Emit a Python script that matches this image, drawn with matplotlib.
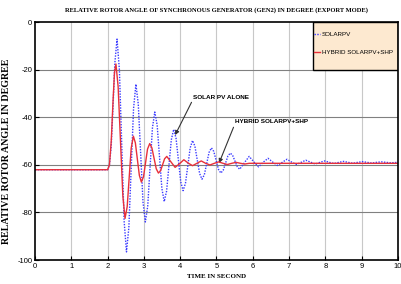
import matplotlib
matplotlib.use("Agg")
import matplotlib.pyplot as plt
from matplotlib.patches import Rectangle

# ---- data ----
t_pv = [0, 2.0, 2.05, 2.1, 2.15, 2.2, 2.26,
        2.325, 2.39, 2.455, 2.52,
        2.585, 2.65, 2.715, 2.78,
        2.845, 2.91, 2.975, 3.04,
        3.105, 3.17, 3.235, 3.30,
        3.365, 3.43, 3.495, 3.56,
        3.625, 3.69, 3.755, 3.82,
        3.885, 3.95, 4.015, 4.08,
        4.145, 4.21, 4.275, 4.34,
        4.405, 4.47, 4.535, 4.60,
        4.665, 4.73, 4.795, 4.86,
        4.925, 4.99, 5.055, 5.12,
        5.185, 5.25, 5.315, 5.38,
        5.445, 5.51, 5.575, 5.64,
        5.77, 5.90, 6.03, 6.16, 6.29, 6.42, 6.55, 6.68, 6.81, 6.94,
        7.07, 7.20, 7.33, 7.46, 7.59, 7.72, 7.85, 7.98, 8.11, 8.24,
        8.37, 8.50, 8.63, 8.76, 8.89, 9.02, 9.15, 9.28, 9.41, 9.54,
        9.67, 9.80, 10.0]
y_pv = [-62, -62, -60, -52, -35, -17, -7,
        -20.0, -51.8, -83.6, -96.6,
        -86.4, -61.3, -36.2, -26.0,
        -34.4, -55.0, -75.6, -84.0,
        -77.3, -60.9, -44.4, -37.7,
        -43.2, -56.6, -69.9, -75.4,
        -71.0, -60.2, -49.4, -45.0,
        -48.7, -57.9, -67.1, -70.8,
        -67.7, -60.3, -52.8, -49.7,
        -52.1, -57.9, -63.6, -66.0,
        -64.1, -59.4, -54.7, -52.8,
        -54.3, -58.1, -61.9, -63.4,
        -62.2, -59.2, -56.2, -55.0,
        -56.0, -58.4, -60.8, -61.8,
        -59.0, -56.4, -58.7, -60.8, -58.8, -57.2, -58.8, -60.2, -58.9, -57.6,
        -58.8, -59.8, -58.9, -58.0, -58.8, -59.6, -58.9, -58.3, -58.9, -59.4,
        -58.9, -58.5, -58.9, -59.3, -58.9, -58.6, -58.9, -59.2, -58.9, -58.7,
        -58.9, -59.1, -58.9]

t_hyb = [0, 2.0, 2.05, 2.1, 2.15, 2.19, 2.23,
         2.29, 2.355, 2.42, 2.48,
         2.54, 2.595, 2.65, 2.71,
         2.765, 2.82, 2.875, 2.93,
         2.99, 3.045, 3.10, 3.16,
         3.22, 3.28, 3.34, 3.40,
         3.46, 3.515, 3.57, 3.63,
         3.745, 3.86, 3.98, 4.10, 4.22, 4.34, 4.46, 4.58, 4.70, 4.82,
         4.94, 5.06, 5.18, 5.30, 5.42, 5.54, 5.66, 5.78, 5.90, 6.5, 10.0]
y_hyb = [-62, -62, -60, -50, -33, -21, -17.5,
         -27.0, -50.0, -73.0, -82.5,
         -77.5, -65.2, -52.9, -47.9,
         -50.7, -57.6, -64.4, -67.2,
         -64.9, -59.1, -53.3, -51.0,
         -52.8, -57.2, -61.6, -63.4,
         -62.4, -59.9, -57.4, -56.4,
         -58.7, -61.0, -59.5, -57.8, -59.2, -60.3, -59.3, -58.3, -59.3, -60.0,
         -59.3, -58.7, -59.3, -59.8, -59.3, -58.9, -59.3, -59.6, -59.3, -59.3, -59.3]

x_ticks = list(range(0, 11))
y_ticks = [0, -20, -40, -60, -80, -100]

narrow = ['Liberation Sans Narrow', 'Liberation Sans', 'DejaVu Sans']
serif = ['Liberation Serif', 'DejaVu Serif']

fig = plt.figure(figsize=(4.01, 2.84), dpi=100)
ax = fig.add_axes([0.0873, 0.0845, 0.9052, 0.8365])

ax.plot(t_pv, y_pv, color='#3a3aff', lw=1.0, ls=(0, (1, 1)), label='SOLARPV', zorder=3)
ax.plot(t_hyb, y_hyb, color='#e8303a', lw=1.0, label='HYBRID SOLARPV+SHP', zorder=4)

ax.set_xlim(0, 10)
ax.set_ylim(-100, 0)
ax.set_xticks(x_ticks)
ax.set_yticks(y_ticks)
ax.set_xticklabels([str(v) for v in x_ticks], family=narrow, fontsize=5.5)
ax.set_yticklabels([str(v) for v in y_ticks], family=narrow, fontsize=5.5)
ax.tick_params(direction='in', length=3, width=0.8, pad=2)

for v in x_ticks[1:-1]:
    ax.axvline(v, color='#c8c8c8', lw=0.8, zorder=1)
for v in y_ticks[1:-1]:
    ax.axhline(v, color='#808080', lw=0.8, zorder=1)

for s in ax.spines.values():
    s.set_linewidth(1.2)
    s.set_color('black')
    s.set_zorder(10)

ax.set_title('RELATIVE ROTOR ANGLE OF SYNCHRONOUS GENERATOR (GEN2) IN DEGREE (EXPORT MODE)',
             family=serif, fontweight='bold', fontsize=4.7, pad=8)
ax.set_xlabel('TIME IN SECOND', family=serif, fontweight='bold', fontsize=5.0, labelpad=3)
ax.set_ylabel('RELATIVE ROTOR ANGLE IN DEGREE', family=serif, fontweight='bold', fontsize=7.2)
ax.yaxis.set_label_coords(-0.066, 0.457)

# legend box (peach) drawn behind a frameless legend
ax.add_patch(Rectangle((0.766, 0.80), 0.234, 0.20, transform=ax.transAxes,
                       facecolor='#fde9d0', edgecolor='black', lw=1.0, zorder=6))
leg = ax.legend(loc='upper left', bbox_to_anchor=(0.766, 0.965), borderaxespad=0,
                prop={'family': narrow, 'size': 4.5}, handlelength=1.0, handletextpad=0.3,
                labelspacing=2.1, borderpad=0.1, frameon=False)
leg.set_zorder(7)

ax.annotate('SOLAR PV ALONE', xy=(3.86, -47.4), xytext=(4.35, -31.4),
            family=narrow, fontsize=4.6, fontweight='bold', ha='left', va='center',
            arrowprops=dict(arrowstyle='-|>', color='#333333', lw=0.8,
                            mutation_scale=6, shrinkA=0, shrinkB=0,
                            relpos=(0.0, 0.0)))
ax.annotate('HYBRID SOLARPV+SHP', xy=(5.07, -59.2), xytext=(5.5, -41.9),
            family=narrow, fontsize=4.6, fontweight='bold', ha='left', va='center',
            arrowprops=dict(arrowstyle='-|>', color='#333333', lw=0.8,
                            mutation_scale=6, shrinkA=0, shrinkB=0,
                            relpos=(0.0, 0.0)))

fig.savefig('out.png', dpi=100)
